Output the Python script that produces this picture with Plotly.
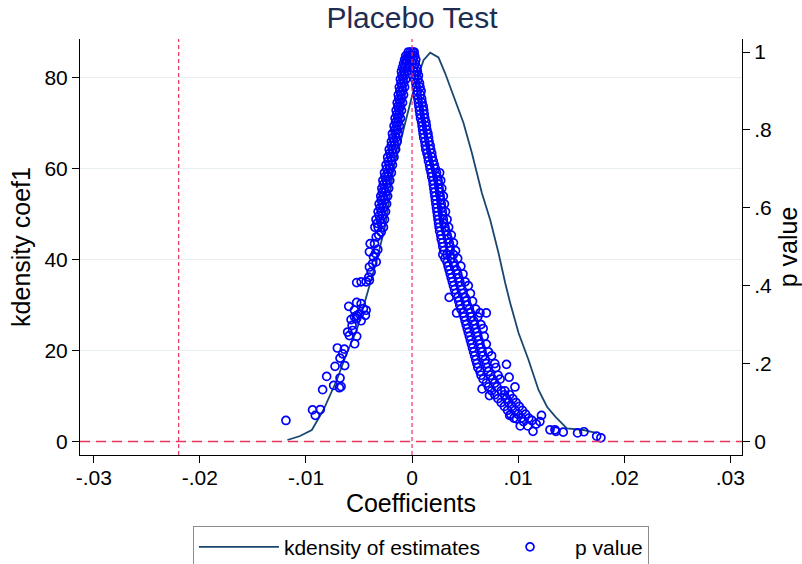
import plotly.graph_objects as go

# ---- kernel density of placebo estimates ----
kd_coef = [-0.01175, -0.01056, -0.00945, -0.00836, -0.00709, -0.00615, -0.00521, -0.00411,
           -0.00332, -0.00254, -0.00222, -0.00175, -0.00128, -0.00065, -0.00002, 0.00051,
           0.00108, 0.00171, 0.00249, 0.00312, 0.00391, 0.00485, 0.00564, 0.00658, 0.00737,
           0.00815, 0.00878, 0.00925, 0.01004, 0.01098, 0.01192, 0.01272, 0.01350, 0.01460,
           0.01617, 0.01743]
kd_density = [0.33, 1.21, 2.53, 6.93, 13.53, 19.48, 24.54, 33.34, 39.94, 47.42, 52.0, 60.19,
              64.14, 70.09, 75.88, 80.0, 83.9, 85.56, 84.51, 81.03, 75.88, 70.09, 63.49, 54.69,
              48.75, 41.48, 34.88, 30.48, 23.88, 17.94, 11.33, 7.66, 5.46, 2.90, 2.53, 1.87]

# ---- p values of placebo estimates (coefficient, p value) ----
pv_left_lower = [
    (-0.01189, 0.054),
    (-0.00938, 0.081), (-0.00912, 0.067), (-0.00865, 0.082),
    (-0.00843, 0.133), (-0.00805, 0.167),
    (-0.00739, 0.144), (-0.00685, 0.138), (-0.00679, 0.163), (-0.00669, 0.141),
    (-0.00726, 0.193), (-0.00635, 0.195), (-0.00679, 0.214), (-0.00654, 0.225), (-0.00704, 0.240), (-0.00638, 0.237),
    (-0.00607, 0.281), (-0.00591, 0.272), (-0.00560, 0.285), (-0.00541, 0.251), (-0.00522, 0.270),
    (-0.00575, 0.313), (-0.00565, 0.298), (-0.00543, 0.320), (-0.00522, 0.316), (-0.00480, 0.310),
    (-0.00597, 0.347), (-0.00543, 0.337), (-0.00522, 0.357), (-0.00480, 0.354), (-0.00459, 0.341),
    (-0.00433, 0.337), (-0.00440, 0.324), (-0.00496, 0.328), (-0.00522, 0.323),
    (-0.00522, 0.408), (-0.00480, 0.410), (-0.00433, 0.410), (-0.00402, 0.414), (-0.00408, 0.422),
    (-0.00386, 0.435), (-0.00402, 0.448), (-0.00371, 0.457), (-0.00338, 0.461), (-0.00364, 0.474),
    (-0.00402, 0.487), (-0.00345, 0.483), (-0.00323, 0.493), (-0.00395, 0.508), (-0.00354, 0.508),
    (-0.00338, 0.525), (-0.00314, 0.530), (-0.00291, 0.538),
]
pv_left_upper = [
    (-0.0032, 0.55), (-0.0027, 0.55), (-0.0035, 0.55), (-0.0029, 0.56), (-0.0033, 0.56),
    (-0.0030, 0.57), (-0.0026, 0.57), (-0.0034, 0.57), (-0.0028, 0.58), (-0.0031, 0.58),
    (-0.0025, 0.59), (-0.0029, 0.59), (-0.0032, 0.59), (-0.0027, 0.60), (-0.0030, 0.60),
    (-0.0024, 0.61), (-0.0028, 0.61), (-0.0031, 0.61), (-0.0026, 0.62), (-0.0029, 0.62),
    (-0.0023, 0.63), (-0.0027, 0.63), (-0.00295, 0.63), (-0.0025, 0.64), (-0.0028, 0.64),
    (-0.0022, 0.65), (-0.0026, 0.65), (-0.00285, 0.65), (-0.0024, 0.66), (-0.0027, 0.66),
    (-0.0021, 0.67), (-0.00245, 0.67), (-0.00275, 0.67), (-0.0023, 0.68), (-0.00255, 0.68),
    (-0.00195, 0.69), (-0.00225, 0.69), (-0.0026, 0.69), (-0.0021, 0.70), (-0.0024, 0.70),
    (-0.00185, 0.71), (-0.00215, 0.71), (-0.00245, 0.71), (-0.00195, 0.72), (-0.00225, 0.72),
    (-0.0017, 0.73), (-0.0020, 0.73), (-0.0023, 0.73), (-0.0018, 0.74), (-0.0021, 0.74),
    (-0.00155, 0.75), (-0.00185, 0.75), (-0.00215, 0.75), (-0.00165, 0.76), (-0.00195, 0.76),
    (-0.0014, 0.77), (-0.0017, 0.77), (-0.00195, 0.77), (-0.0015, 0.78), (-0.0018, 0.78),
    (-0.0013, 0.79), (-0.00155, 0.79), (-0.00185, 0.79), (-0.0014, 0.80), (-0.00165, 0.80),
    (-0.0012, 0.81), (-0.00145, 0.81), (-0.0017, 0.81), (-0.0013, 0.82), (-0.00155, 0.82),
    (-0.0011, 0.83), (-0.00135, 0.83), (-0.0016, 0.83), (-0.0012, 0.84), (-0.00145, 0.84),
    (-0.0010, 0.85), (-0.00125, 0.85), (-0.0015, 0.85), (-0.0011, 0.86), (-0.00135, 0.86),
    (-0.0009, 0.87), (-0.00115, 0.87), (-0.0014, 0.87), (-0.0010, 0.88), (-0.00125, 0.88),
    (-0.0008, 0.89), (-0.00105, 0.89), (-0.0013, 0.89), (-0.0009, 0.90), (-0.00115, 0.90),
    (-0.0007, 0.91), (-0.00095, 0.91), (-0.0012, 0.91), (-0.0008, 0.92), (-0.00105, 0.92),
    (-0.0006, 0.93), (-0.00085, 0.93), (-0.0011, 0.93), (-0.0007, 0.94), (-0.00095, 0.94),
    (-0.0005, 0.95), (-0.00075, 0.95), (-0.0010, 0.95), (-0.0004, 0.96), (-0.00065, 0.96),
    (-0.0009, 0.96), (-0.0003, 0.97), (-0.00055, 0.97), (-0.0008, 0.97), (-0.00025, 0.98),
    (-0.0005, 0.98), (-0.0007, 0.98), (-0.0002, 0.99), (-0.0004, 0.99), (-0.0006, 0.99),
    (-0.00015, 1.00), (-0.00035, 1.00),
]
pv_right_upper = [
    (0.00005, 1.00), (0.0002, 1.00), (-0.00005, 0.99), (0.00025, 0.99), (0.0001, 0.98), (0.00035, 0.98),
    (0.0000, 0.97), (0.0003, 0.97), (0.00015, 0.96), (0.00045, 0.96), (0.0002, 0.95), (0.0005, 0.95),
    (0.0003, 0.94), (0.0006, 0.94), (0.00025, 0.93), (0.00055, 0.93), (0.00035, 0.92), (0.0007, 0.92),
    (0.0004, 0.91), (0.00075, 0.91), (0.0005, 0.90), (0.00085, 0.90), (0.00045, 0.89), (0.0008, 0.89),
    (0.00055, 0.88), (0.0009, 0.88), (0.0006, 0.87), (0.00095, 0.87), (0.00065, 0.86), (0.00105, 0.86),
    (0.0007, 0.85), (0.0011, 0.85), (0.00075, 0.84), (0.00115, 0.84), (0.0008, 0.83), (0.0012, 0.83),
    (0.0009, 0.82), (0.0013, 0.82), (0.00095, 0.81), (0.00135, 0.81), (0.0010, 0.80), (0.0014, 0.80),
    (0.00105, 0.79), (0.0015, 0.79), (0.0011, 0.78), (0.00155, 0.78), (0.0012, 0.77), (0.0016, 0.77),
    (0.00125, 0.76), (0.0017, 0.76), (0.0013, 0.75), (0.00175, 0.75), (0.0014, 0.74), (0.00185, 0.74),
    (0.0015, 0.73), (0.0019, 0.73), (0.00155, 0.72), (0.0020, 0.72), (0.00165, 0.71), (0.0021, 0.71),
    (0.0017, 0.70), (0.0022, 0.70), (0.0018, 0.69), (0.0023, 0.69), (0.0026, 0.69),
    (0.00185, 0.68), (0.00235, 0.68), (0.00195, 0.67), (0.00245, 0.67), (0.0027, 0.67),
    (0.0020, 0.66), (0.0025, 0.66), (0.00205, 0.65), (0.00255, 0.65), (0.0028, 0.65),
    (0.0021, 0.64), (0.0026, 0.64), (0.00215, 0.63), (0.00265, 0.63), (0.00295, 0.63),
    (0.0022, 0.62), (0.0027, 0.62), (0.00225, 0.61), (0.00275, 0.61), (0.00305, 0.61),
    (0.0023, 0.60), (0.0028, 0.60), (0.00235, 0.59), (0.00285, 0.59), (0.00315, 0.59),
    (0.0024, 0.58), (0.0029, 0.58), (0.00245, 0.57), (0.00295, 0.57), (0.0033, 0.57),
    (0.0025, 0.56), (0.0030, 0.56), (0.00255, 0.55), (0.0031, 0.55), (0.00345, 0.55),
    (0.0026, 0.54), (0.0032, 0.54), (0.0027, 0.53), (0.0033, 0.53), (0.0037, 0.53),
    (0.00275, 0.52), (0.0034, 0.52), (0.00285, 0.51), (0.0035, 0.51), (0.0039, 0.51),
    (0.0029, 0.50), (0.0036, 0.50),
]
pv_right_lower = [
    (0.0030, 0.49), (0.0036, 0.49), (0.0041, 0.49), (0.0029, 0.48), (0.0033, 0.48), (0.0039, 0.48),
    (0.0031, 0.47), (0.0037, 0.47), (0.0043, 0.47), (0.0033, 0.46), (0.0039, 0.46),
    (0.0034, 0.45), (0.0040, 0.45), (0.0046, 0.45), (0.0035, 0.44), (0.0042, 0.44),
    (0.0036, 0.43), (0.0043, 0.43), (0.0048, 0.43), (0.0037, 0.42), (0.0044, 0.42),
    (0.0038, 0.41), (0.0045, 0.41), (0.0050, 0.41), (0.0039, 0.40), (0.0046, 0.40), (0.0053, 0.40),
    (0.0040, 0.39), (0.0047, 0.39), (0.0041, 0.38), (0.0048, 0.38), (0.0055, 0.38),
    (0.0035, 0.37), (0.0043, 0.37), (0.0050, 0.37), (0.0044, 0.36), (0.0051, 0.36), (0.0057, 0.36),
    (0.0045, 0.35), (0.0052, 0.35), (0.0046, 0.34), (0.0054, 0.34), (0.0060, 0.34),
    (0.0042, 0.33), (0.0048, 0.33), (0.0055, 0.33), (0.0064, 0.33), (0.0070, 0.33),
    (0.0049, 0.32), (0.0056, 0.32), (0.0062, 0.32), (0.0050, 0.31), (0.0058, 0.31),
    (0.0051, 0.30), (0.0059, 0.30), (0.0065, 0.30), (0.0052, 0.29), (0.0060, 0.29), (0.0067, 0.29),
    (0.0053, 0.28), (0.0061, 0.28), (0.0054, 0.27), (0.0062, 0.27), (0.0068, 0.27),
    (0.0055, 0.26), (0.0063, 0.26), (0.0056, 0.25), (0.0064, 0.25), (0.0070, 0.25),
    (0.0057, 0.24), (0.0065, 0.24), (0.0058, 0.23), (0.0066, 0.23), (0.0072, 0.23),
    (0.0059, 0.22), (0.0067, 0.22), (0.0075, 0.22), (0.0060, 0.21), (0.0069, 0.21),
    (0.0061, 0.20), (0.0070, 0.20), (0.0078, 0.20), (0.0089, 0.198),
    (0.0062, 0.19), (0.0071, 0.19), (0.0079, 0.19), (0.0064, 0.18), (0.0072, 0.18),
    (0.0065, 0.17), (0.0074, 0.17), (0.0081, 0.17), (0.00915, 0.165),
    (0.0067, 0.16), (0.0076, 0.16), (0.0083, 0.16), (0.0070, 0.15), (0.0078, 0.15),
    (0.0072, 0.14), (0.0080, 0.14), (0.0097, 0.14), (0.0066, 0.135),
    (0.0075, 0.13), (0.0084, 0.13), (0.00875, 0.13), (0.0078, 0.12), (0.0087, 0.12), (0.0092, 0.12),
    (0.0073, 0.118), (0.0081, 0.11), (0.0089, 0.11), (0.0095, 0.11),
    (0.0084, 0.10), (0.0091, 0.10), (0.0098, 0.10), (0.0087, 0.09), (0.0094, 0.09), (0.0101, 0.09),
    (0.0090, 0.08), (0.0097, 0.08), (0.0104, 0.08), (0.0093, 0.07), (0.0100, 0.07), (0.0107, 0.07),
    (0.0122, 0.067), (0.0092, 0.067), (0.0096, 0.06), (0.0103, 0.06), (0.0110, 0.06),
    (0.00985, 0.058), (0.0113, 0.054), (0.01205, 0.051), (0.0105, 0.051), (0.0117, 0.045),
    (0.0102, 0.04), (0.0109, 0.04), (0.0130, 0.030), (0.01347, 0.030), (0.01356, 0.026),
    (0.0114, 0.026), (0.01425, 0.024), (0.0156, 0.022), (0.0162, 0.025),
    (0.0174, 0.0136), (0.0178, 0.0095),
]

pv_points = pv_left_lower + pv_left_upper + pv_right_upper + pv_right_lower
pv_coef = [c for c, p in pv_points]
pv_value = [p for c, p in pv_points]

x_ticks = [-0.03, -0.02, -0.01, 0, 0.01, 0.02, 0.03]
x_ticktext = ["-.03", "-.02", "-.01", "0", ".01", ".02", ".03"]
y1_ticks = [0, 20, 40, 60, 80]
y2_ticks = [0, 0.2, 0.4, 0.6, 0.8, 1]
y2_ticktext = ["0", ".2", ".4", ".6", ".8", "1"]
xline_vals = [-0.022, 0]
yline_val = 0

RED = "#e8335f"
FONT = "Liberation Sans, Arial, sans-serif"

fig = go.Figure()
fig.add_trace(go.Scatter(
    x=kd_coef, y=kd_density, mode="lines", name="kdensity of estimates",
    line=dict(color="#1a476f", width=1.8), yaxis="y"))
fig.add_trace(go.Scatter(
    x=pv_coef, y=pv_value, mode="markers", name="p value",
    marker=dict(symbol="circle-open", size=8, color="#0000ff", line=dict(width=1.7, color="#0000ff")),
    yaxis="y2"))

for xv in xline_vals:
    fig.add_shape(type="line", xref="x", yref="paper", x0=xv, x1=xv, y0=0, y1=1,
                  line=dict(color=RED, width=1.2, dash="4px,3px"), layer="above")
fig.add_shape(type="line", xref="paper", yref="y", x0=0, x1=1, y0=yline_val, y1=yline_val,
              line=dict(color=RED, width=1.6, dash="10px,6px"), layer="above")

fig.update_layout(
    width=802, height=564,
    margin=dict(l=80, r=60, t=39, b=109, autoexpand=False),
    paper_bgcolor="white", plot_bgcolor="white",
    font=dict(family=FONT, size=21, color="black"),
    title=dict(text="Placebo Test", x=412 / 802, xanchor="center", y=1 - 17 / 564,
               yanchor="middle", yref="container", font=dict(size=30, color="#1f2d50")),
    showlegend=True,
    legend=dict(orientation="h", x=0.515, xanchor="center", y=-0.170, yanchor="top",
                bordercolor="#8c8c8c", borderwidth=1, font=dict(size=21), itemwidth=80,
                traceorder="normal", bgcolor="white"),
    xaxis=dict(range=[-0.0313, 0.0311], tickvals=x_ticks, ticktext=x_ticktext,
               showgrid=False, zeroline=False, showline=True, linecolor="black", linewidth=1,
               ticks="outside", ticklen=7, tickcolor="black", ticklabelstandoff=-3,
               title=dict(text="Coefficients", standoff=1)),
    yaxis=dict(range=[-2.97, 88.58], tickvals=y1_ticks, showgrid=True, gridcolor="#e6eeef",
               gridwidth=1.2, zeroline=False, showline=True, linecolor="black", linewidth=1,
               ticks="outside", ticklen=7, tickcolor="black",
               title=dict(text="kdensity coef1", standoff=6)),
    yaxis2=dict(range=[-0.0347, 1.0334], tickvals=y2_ticks, ticktext=y2_ticktext,
                overlaying="y", side="right", showgrid=False, zeroline=False, showline=True,
                linecolor="black", linewidth=1, ticks="outside", ticklen=7, tickcolor="black",
                title=dict(text="p value", standoff=10)),
)

fig.write_html("out.html", config={"displayModeBar": False},
               post_script="document.body.style.margin='0';document.body.style.overflow='hidden';")
